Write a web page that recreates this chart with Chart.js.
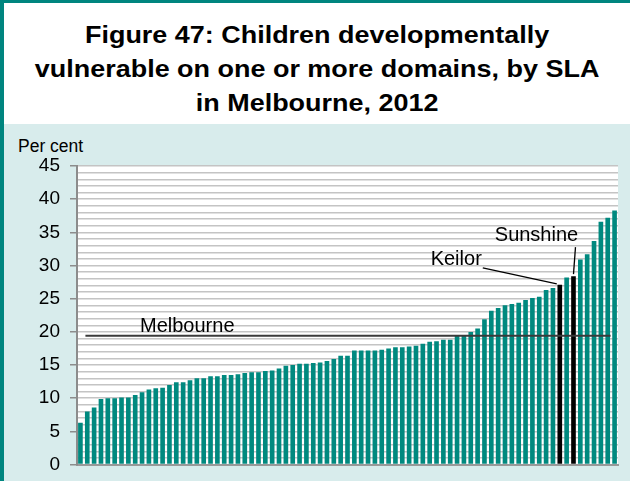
<!DOCTYPE html>
<html>
<head>
<meta charset="utf-8">
<script src="https://cdn.jsdelivr.net/npm/chart.js@4/dist/chart.umd.min.js"></script>
<style>
  html, body { margin: 0; padding: 0; }
  body { width: 630px; height: 481px; position: relative; overflow: hidden; background: #fff; font-family: "Liberation Sans", Arial, sans-serif; }
  #frame { position: absolute; left: 0; top: 0; width: 626px; height: 478px; border-left: 4px solid #00857f; border-top: 3px solid #00857f; }
  #title { position: absolute; left: 4px; top: 18px; width: 626px; text-align: center; font-weight: bold; font-size: 24.5px; line-height: 34px; color: #000; transform: scaleX(1.1); transform-origin: 312px 0; }
  #panel { position: absolute; left: 4px; top: 124px; width: 626px; height: 357px; background: #d8ecec; }
  #unit { position: absolute; left: 18px; top: 136px; font-size: 17.5px; color: #000; }
  #chartBox { position: absolute; left: 4px; top: 124px; width: 626px; height: 362px; }
</style>
</head>
<body>
<div id="frame"></div>
<div id="title">Figure 47: Children developmentally<br>vulnerable on one or more domains, by SLA<br>in Melbourne, 2012</div>
<div id="panel"></div>
<div id="unit">Per cent</div>
<div id="chartBox"><canvas id="chart"></canvas></div>
<script>
// per cent of children vulnerable on 1+ domains, one bar per SLA, sorted
const values = [
  6.3, 8.0, 8.6, 9.9, 10.0, 10.0, 10.1, 10.1, 10.5, 10.9,
  11.3, 11.5, 11.6, 12.0, 12.4, 12.4, 12.7, 13.0, 13.0, 13.3,
  13.3, 13.5, 13.5, 13.6, 13.8, 13.9, 13.9, 14.1, 14.2, 14.5,
  14.9, 15.0, 15.2, 15.2, 15.3, 15.4, 15.6, 15.9, 16.4, 16.4,
  17.2, 17.2, 17.2, 17.2, 17.3, 17.5, 17.7, 17.7, 17.8, 17.9,
  18.2, 18.5, 18.6, 18.8, 18.8, 19.4, 19.4, 20.0, 20.5, 21.9,
  23.2, 23.6, 24.0, 24.2, 24.4, 24.8, 25.1, 25.3, 26.3, 26.6,
  27.1, 28.2, 28.4, 30.9, 31.7, 33.7, 36.6, 37.2, 38.3
];
const highlighted = { 70: 'Keilor', 72: 'Sunshine' };
const melbourneAvg = [19.4];
const yTicks = [0, 5, 10, 15, 20, 25, 30, 35, 40, 45];

const labels = values.map((v, i) => highlighted[i] || 'SLA ' + (i + 1));
const barColors = values.map((v, i) => highlighted[i] ? '#000000' : '#00897f');

// Melbourne line + callouts
const notes = {
  id: 'notes',
  afterDatasetsDraw(chart) {
    const { ctx, scales: { x, y } } = chart;
    ctx.save();
    ctx.font = '20px "Liberation Sans", Arial, sans-serif';
    ctx.fillStyle = '#000';

    // average line
    const my = y.getPixelForValue(melbourneAvg[0]);
    ctx.strokeStyle = '#3a3a3a';
    ctx.lineWidth = 2;
    ctx.beginPath();
    ctx.moveTo(x.getPixelForValue(0) + 5, my);
    ctx.lineTo(x.getPixelForValue(values.length - 1) - 4, my);
    ctx.stroke();
    ctx.textAlign = 'left';
    ctx.textBaseline = 'alphabetic';
    ctx.fillText('Melbourne', chart.chartArea.left + 63, my - 4);

    ctx.strokeStyle = '#000';
    ctx.lineWidth = 1.3;

    // Keilor
    let bx = x.getPixelForValue(70), by = y.getPixelForValue(values[70]);
    ctx.beginPath();
    ctx.moveTo(bx - 77, by - 17);
    ctx.lineTo(bx - 3, by - 1);
    ctx.stroke();
    ctx.textAlign = 'right';
    ctx.textBaseline = 'middle';
    ctx.fillText('Keilor', bx - 78, by - 25);

    // Sunshine
    bx = x.getPixelForValue(72); by = y.getPixelForValue(values[72]);
    ctx.beginPath();
    ctx.moveTo(bx + 2, by - 29);
    ctx.lineTo(bx, by - 2);
    ctx.stroke();
    ctx.textAlign = 'center';
    ctx.fillText('Sunshine', bx - 37, by - 41);
    ctx.restore();
  }
};

// white plot background
const plotBg = {
  id: 'plotBg',
  beforeDraw(chart) {
    const { ctx, chartArea: a } = chart;
    ctx.save();
    ctx.fillStyle = '#ffffff';
    ctx.fillRect(a.left, a.top, a.right - a.left, a.bottom - a.top);
    ctx.restore();
  }
};

new Chart(document.getElementById('chart'), {
  type: 'bar',
  data: {
    labels: labels,
    datasets: [{
      data: values,
      backgroundColor: barColors,
      borderWidth: 0,
      barPercentage: 0.68,
      categoryPercentage: 1
    }]
  },
  options: {
    responsive: true,
    maintainAspectRatio: false,
    animation: false,
    layout: { padding: { left: 0, right: 12, top: 42, bottom: 0 } },
    plugins: { legend: { display: false }, tooltip: { enabled: false } },
    scales: {
      x: {
        ticks: { display: false },
        grid: { display: false, drawTicks: false },
        border: { display: true, color: '#999999', width: 2 },
        afterFit: s => { s.height = 0; }
      },
      y: {
        min: yTicks[0],
        max: yTicks[yTicks.length - 1],
        ticks: {
          stepSize: 1,
          autoSkip: false,
          padding: 10,
          color: '#000',
          font: { family: '"Liberation Sans", Arial, sans-serif', size: 19 },
          callback: v => yTicks.includes(v) ? String(v) : ''
        },
        grid: {
          color: '#c4c4c4',
          lineWidth: 1.5,
          tickLength: 7,
          tickColor: c => (c.tick && c.tick.value % 5 === 0) ? '#8c8c8c' : 'rgba(0,0,0,0)'
        },
        border: { display: true, color: '#8c8c8c', width: 2 },
        afterFit: s => { s.width = 73; }
      }
    }
  },
  plugins: [plotBg, notes]
});
</script>
</body>
</html>
